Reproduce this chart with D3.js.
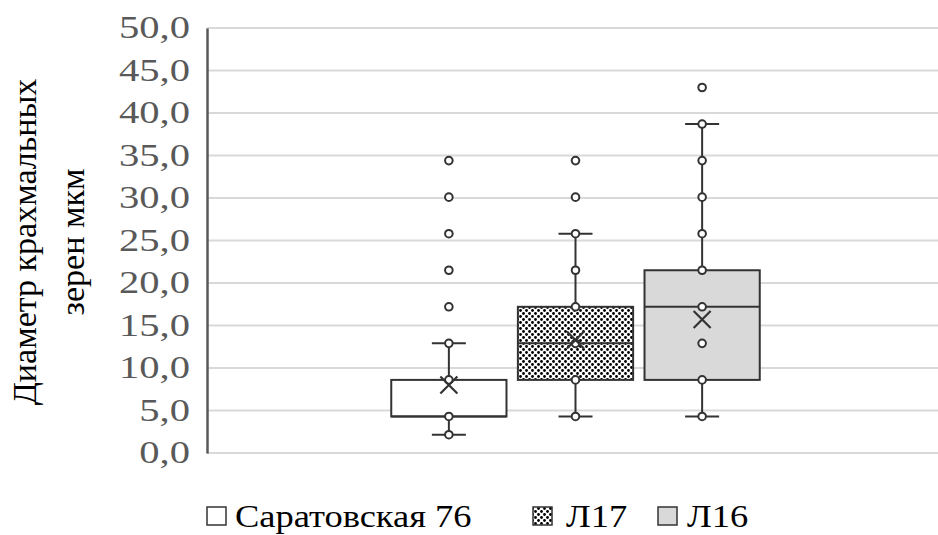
<!DOCTYPE html>
<html><head><meta charset="utf-8">
<script src="https://cdn.jsdelivr.net/npm/d3@7"></script>
<style>body{margin:0;background:#fff} text{font-family:'Liberation Serif','Times New Roman',serif}</style>
</head><body>
<svg id="c" width="938" height="535"></svg>
<script>
const series = ["Саратовская 76", "Л17", "Л16"];
const whiskerLow  = [2.15, 4.3, 4.3];
const q1          = [4.3, 8.6, 8.6];
const median      = [4.3, 12.9, 17.2];
const q3          = [8.6, 17.2, 21.5];
const whiskerHigh = [12.9, 25.8, 38.7];
const means       = [8.0, 13.3, 15.7];
const points = [
  [2.15, 4.3, 8.6, 12.9, 17.2, 21.5, 25.8, 30.1, 34.4],
  [4.3, 8.6, 12.9, 17.2, 21.5, 25.8, 30.1, 34.4],
  [4.3, 8.6, 12.9, 17.2, 21.5, 25.8, 30.1, 34.4, 38.7, 43.0]
];
const yTicks = [0, 5, 10, 15, 20, 25, 30, 35, 40, 45, 50];
const yTitle = ["Диаметр крахмальных", "зерен мкм"];

(function () {
const svg = d3.select("#c");
const pL = 207, pR = 944, pT = 28, pB = 453;
const y = d3.scaleLinear().domain([0, 50]).range([pB, pT]);
const xCat = d3.scaleBand().domain(["c"]).range([pL, pR]).paddingOuter(0.5).paddingInner(0);
const xs = d3.scaleBand().domain(series).range([xCat("c"), xCat("c") + xCat.bandwidth()]).paddingInner(0.09);

const defs = svg.append("defs");
const pat = defs.append("pattern").attr("id", "dots").attr("patternUnits", "userSpaceOnUse")
  .attr("width", 6).attr("height", 6);
pat.append("rect").attr("width", 6).attr("height", 6).attr("fill", "#fff");
pat.append("circle").attr("cx", 1.5).attr("cy", 1.5).attr("r", 1.4).attr("fill", "#000");
pat.append("circle").attr("cx", 4.5).attr("cy", 4.5).attr("r", 1.4).attr("fill", "#000");
const fills = ["#ffffff", "url(#dots)", "#d9d9d9"];

svg.append("g").selectAll("line").data(yTicks).join("line")
  .attr("x1", pL).attr("x2", 938).attr("y1", d => y(d)).attr("y2", d => y(d))
  .attr("stroke", "#d9d9d9").attr("stroke-width", 2);

const sxTick = 1.31;
const yAxis = d3.axisLeft(y).tickValues(yTicks).tickSize(0).tickPadding(13)
  .tickFormat(d => d3.format(".1f")(d).replace(".", ","));
const ga = svg.append("g").attr("transform", `translate(${pL},0)`).call(yAxis);
ga.select(".domain").attr("stroke", "#595959").attr("stroke-width", 2.5);
ga.selectAll("text").attr("font-size", 31).attr("fill", "#595959")
  .attr("transform", `scale(${sxTick},1)`);

const t = svg.append("text").attr("transform", "translate(0,242) rotate(-90)")
  .attr("text-anchor", "middle").attr("font-size", 34).attr("fill", "#000");
t.append("tspan").attr("x", 0).attr("y", 36).text(yTitle[0]);
t.append("tspan").attr("x", 0).attr("y", 84).text(yTitle[1]);

const stroke = "#333";
series.forEach((s, i) => {
  const g = svg.append("g");
  const x0 = xs(s), w = xs.bandwidth(), cx = x0 + w / 2;
  g.append("line").attr("x1", cx).attr("x2", cx).attr("y1", y(q3[i])).attr("y2", y(whiskerHigh[i]))
    .attr("stroke", stroke).attr("stroke-width", 2);
  g.append("line").attr("x1", cx).attr("x2", cx).attr("y1", y(q1[i])).attr("y2", y(whiskerLow[i]))
    .attr("stroke", stroke).attr("stroke-width", 2);
  [whiskerHigh[i], whiskerLow[i]].forEach(v => g.append("line")
    .attr("x1", cx - 17).attr("x2", cx + 17).attr("y1", y(v)).attr("y2", y(v))
    .attr("stroke", stroke).attr("stroke-width", 2));
  g.append("rect").attr("x", x0).attr("width", w).attr("y", y(q3[i])).attr("height", y(q1[i]) - y(q3[i]))
    .attr("fill", fills[i]).attr("stroke", stroke).attr("stroke-width", 2);
  g.append("line").attr("x1", x0).attr("x2", x0 + w).attr("y1", y(median[i])).attr("y2", y(median[i]))
    .attr("stroke", stroke).attr("stroke-width", 2);
  g.selectAll("circle").data(points[i]).join("circle")
    .attr("cx", cx).attr("cy", d => y(d)).attr("r", 3.8)
    .attr("fill", "#fff").attr("stroke", stroke).attr("stroke-width", 2);
  const my = y(means[i]), k = 8.5;
  g.append("path").attr("d", `M${cx - k},${my - k}L${cx + k},${my + k}M${cx - k},${my + k}L${cx + k},${my - k}`)
    .attr("stroke", stroke).attr("stroke-width", 2.2).attr("fill", "none");
});

const legBox = [207, 533, 658];
const legTxt = [235, 566, 687];
const lg = svg.append("g");
series.forEach((s, i) => {
  lg.append("rect").attr("x", legBox[i]).attr("y", 507).attr("width", 19).attr("height", 18)
    .attr("fill", fills[i]).attr("stroke", "#333").attr("stroke-width", 1.5);
  lg.append("text").attr("transform", `translate(${legTxt[i]},527) scale(1.14,1)`)
    .attr("font-size", 32).attr("fill", "#000").text(s);
});
})();
</script>
</body></html>
